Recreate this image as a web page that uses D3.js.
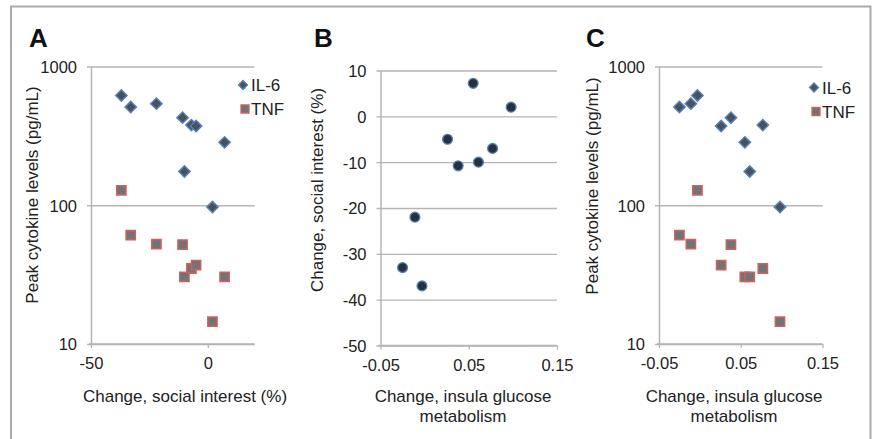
<!DOCTYPE html>
<html>
<head>
<meta charset="utf-8">
<script src="https://cdn.jsdelivr.net/npm/d3@7"></script>
<style>
  body { margin: 0; background: #fff; }
  svg text { font-family: "Liberation Sans", Arial, sans-serif; fill: #222; }
</style>
</head>
<body>
<script>
// one entry per subject, same order in every array
var socialChange  = [-37, -33, -22, -10.8, -7, -5, 7.2, -10, 2];          // %
var glucoseChange = [-0.003, -0.025, -0.011, 0.038, 0.077, 0.026, 0.055, 0.061, 0.098];
var il6Peak = [618, 510, 540, 428, 378, 372, 284, 175, 97];              // pg/mL
var tnfPeak = [128, 61, 52.5, 52, 35, 37, 30.5, 30.5, 14.5];             // pg/mL

var logTicks = [10, 100, 1000];
var socialTicks = [10, 0, -10, -20, -30, -40, -50];
var socialXTicks = [-50, 0];
var glucoseTicks = [-0.05, 0.05, 0.15];
var seriesNames = ["IL-6", "TNF"];

var W = 872, H = 439;
var gridColor = "#b5b5b5";

var svg = d3.select("body").append("svg")
    .attr("width", W)
    .attr("height", H);

// outer frame (bottom edge runs off the picture)
svg.append("path")
    .attr("d", "M11,445 V6.5 H870.5 V445")
    .attr("fill", "none")
    .attr("stroke", "#aaa")
    .attr("stroke-width", 2);

// excel style labels: plain hyphen, not the unicode minus d3 uses
function hyphen(f) {
    return function (d) { return f(d).replace("\u2212", "-"); };
}

function panel(opt) {
    var g = svg.append("g").attr("transform", "translate(" + opt.left + "," + opt.top + ")");
    var w = opt.right - opt.left, h = opt.bottom - opt.top;
    opt.x.range([0, w]);
    opt.y.range([h, 0]);

    // y axis + grid
    var ya = g.append("g")
        .call(d3.axisLeft(opt.y).tickValues(opt.yTicks).tickSize(-w).tickSizeOuter(0)
              .tickPadding(14).tickFormat(opt.yFmt));
    ya.select(".domain").attr("stroke", gridColor).attr("stroke-width", 1.5);
    ya.selectAll(".tick line").attr("x1", -4).attr("stroke", gridColor).attr("stroke-width", 1.3);
    ya.selectAll(".tick text").style("font-size", "16.5px").attr("dy", "0.36em");

    // x axis
    var xa = g.append("g")
        .attr("transform", "translate(0," + h + ")")
        .call(d3.axisBottom(opt.x).tickValues(opt.xTicks).tickSize(4).tickSizeOuter(0)
              .tickPadding(13).tickFormat(opt.xFmt));
    xa.select(".domain").attr("stroke", gridColor).attr("stroke-width", 1.5)
        .attr("d", "M-2,0H" + w);
    xa.selectAll(".tick line").attr("stroke", gridColor).attr("stroke-width", 1.3);
    xa.selectAll(".tick text").style("font-size", "16.5px").attr("dy", "0.5em");

    // panel letter
    svg.append("text")
        .attr("x", opt.letterX).attr("y", 47)
        .style("font-size", "26px").style("font-weight", "bold").style("fill", "#111")
        .text(opt.letter);

    // axis titles
    svg.append("text")
        .attr("transform", "translate(" + opt.yTitleX + "," + opt.yTitleY + ") rotate(-90)")
        .attr("text-anchor", "middle")
        .style("font-size", "17px")
        .text(opt.yTitle);

    var xt = svg.append("text")
        .attr("text-anchor", "middle")
        .style("font-size", "17px");
    opt.xTitle.forEach(function (line, i) {
        xt.append("tspan")
            .attr("x", opt.xTitleX)
            .attr("y", 402 + i * 19.5)
            .text(line);
    });
    return g;
}

function cytokineMarks(g, x, y, xs) {
    var diamond = d3.symbol().type(d3.symbolSquare).size(64);
    var square = d3.symbol().type(d3.symbolSquare).size(86);

    g.selectAll(".il6").data(il6Peak).enter().append("path")
        .attr("class", "il6")
        .attr("d", diamond)
        .attr("transform", function (d, i) { return "translate(" + x(xs[i]) + "," + y(d) + ") rotate(45)"; })
        .attr("fill", "#4b5159").attr("stroke", "#4f81bd").attr("stroke-width", 1.5);

    g.selectAll(".tnf").data(tnfPeak).enter().append("path")
        .attr("class", "tnf")
        .attr("d", square)
        .attr("transform", function (d, i) { return "translate(" + x(xs[i]) + "," + y(d) + ")"; })
        .attr("fill", "#707478").attr("stroke", "#d0605c").attr("stroke-width", 1.5);
}

function legend(lx, ly) {
    var lg = svg.append("g").attr("transform", "translate(" + lx + "," + ly + ")");
    lg.append("path")
        .attr("d", d3.symbol().type(d3.symbolSquare).size(40))
        .attr("transform", "rotate(45)")
        .attr("fill", "#4b5159").attr("stroke", "#4f81bd").attr("stroke-width", 1.3);
    lg.append("path")
        .attr("d", d3.symbol().type(d3.symbolSquare).size(64))
        .attr("transform", "translate(2,24)")
        .attr("fill", "#707478").attr("stroke", "#d0605c").attr("stroke-width", 1.3);
    lg.selectAll("text").data(seriesNames).enter().append("text")
        .attr("x", 8).attr("y", function (d, i) { return i * 24; })
        .attr("dy", "0.36em")
        .style("font-size", "17px")
        .text(String);
}

var logFmt = d3.format("d");

// ---- A ----
var xA = d3.scaleLinear().domain([-50, 20]);
var yA = d3.scaleLog().domain([10, 1000]);
var gA = panel({
    left: 91, right: 254.5, top: 66.5, bottom: 344,
    x: xA, y: yA, xTicks: socialXTicks, yTicks: logTicks,
    xFmt: hyphen(d3.format("d")), yFmt: logFmt,
    letter: "A", letterX: 29,
    yTitle: "Peak cytokine levels (pg/mL)", yTitleX: 38, yTitleY: 195,
    xTitle: ["Change, social interest (%)"], xTitleX: 185
});
cytokineMarks(gA, xA, yA, socialChange);
legend(243, 85);

// ---- B ----
var xB = d3.scaleLinear().domain([-0.05, 0.15]);
var yB = d3.scaleLinear().domain([-50, 10]);
var gB = panel({
    left: 380.5, right: 557, top: 70.5, bottom: 345.5,
    x: xB, y: yB, xTicks: glucoseTicks, yTicks: socialTicks,
    xFmt: hyphen(d3.format(".2f")), yFmt: hyphen(d3.format("d")),
    letter: "B", letterX: 314,
    yTitle: "Change, social interest (%)", yTitleX: 323, yTitleY: 190,
    xTitle: ["Change, insula glucose", "metabolism"], xTitleX: 463
});
gB.selectAll(".pt").data(socialChange).enter().append("circle")
    .attr("class", "pt")
    .attr("cx", function (d, i) { return xB(glucoseChange[i]); })
    .attr("cy", function (d) { return yB(d); })
    .attr("r", 4.9)
    .attr("fill", "#27303b").attr("stroke", "#4f81bd").attr("stroke-width", 1.3);

// ---- C ----
var xC = d3.scaleLinear().domain([-0.05, 0.15]);
var yC = d3.scaleLog().domain([10, 1000]);
var gC = panel({
    left: 659, right: 822.5, top: 66.5, bottom: 344,
    x: xC, y: yC, xTicks: glucoseTicks, yTicks: logTicks,
    xFmt: hyphen(d3.format(".2f")), yFmt: logFmt,
    letter: "C", letterX: 586,
    yTitle: "Peak cytokine levels (pg/mL)", yTitleX: 598, yTitleY: 186,
    xTitle: ["Change, insula glucose", "metabolism"], xTitleX: 734
});
cytokineMarks(gC, xC, yC, glucoseChange);
legend(814, 87.5);
</script>
</body>
</html>
